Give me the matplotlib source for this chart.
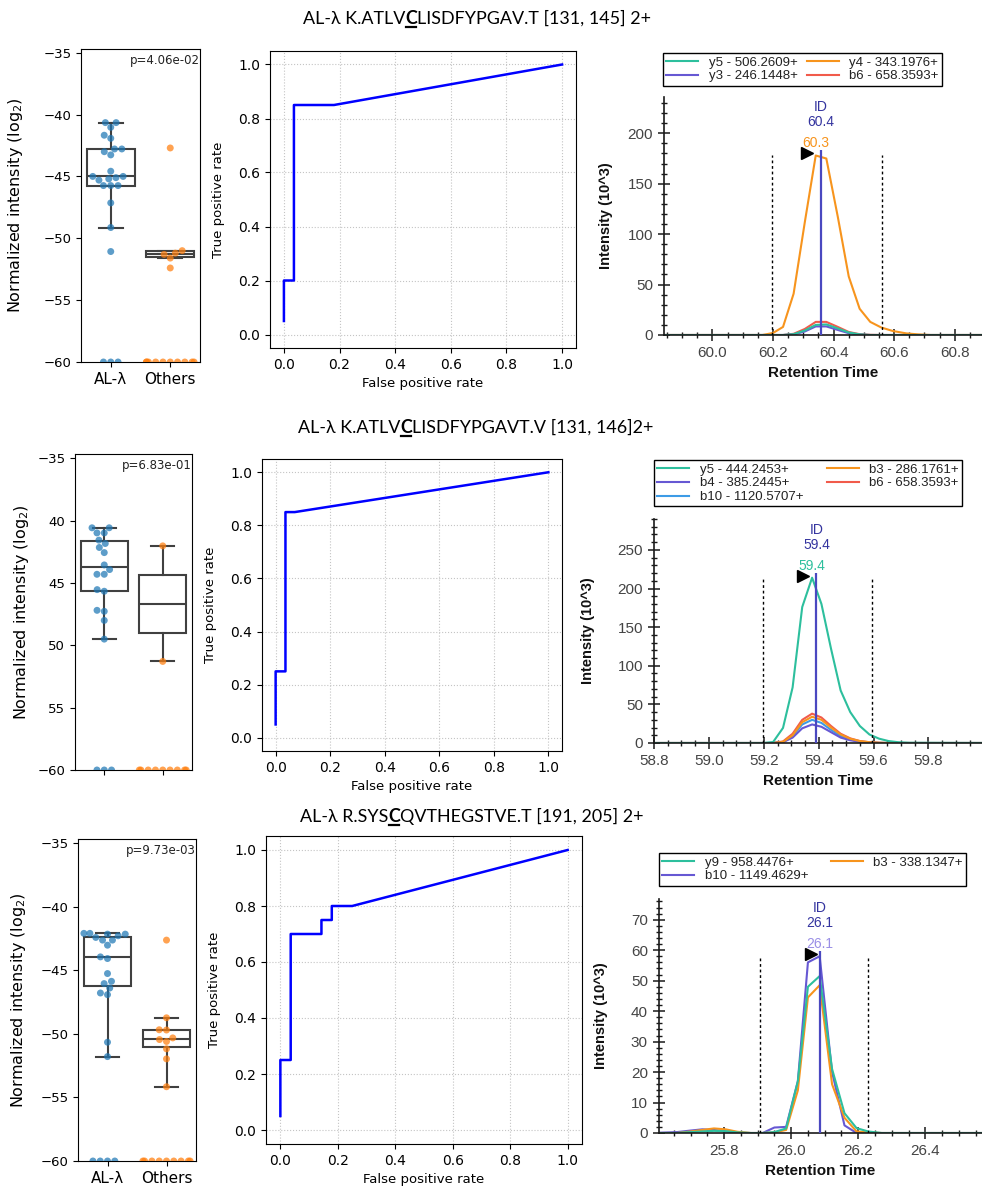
import numpy as np
import pandas as pd
import matplotlib
matplotlib.use("Agg")
import matplotlib.pyplot as plt
import seaborn as sns
from matplotlib.ticker import MultipleLocator, FixedLocator, FixedFormatter, FormatStrFormatter
from matplotlib.lines import Line2D
from matplotlib.transforms import offset_copy

W, H = 982, 1192
FLOOR = -60
GROUPS = ["AL-λ", "Others"]

# ---------------- peptide titles (plain, bold, plain) ----------------
title_1 = [("AL-λ K.ATLV", False), ("C", True), ("LISDFYPGAV.T [131, 145] 2+", False)]
title_2 = [("AL-λ K.ATLV", False), ("C", True), ("LISDFYPGAVT.V [131, 146]2+", False)]
title_3 = [("AL-λ R.SYS", False), ("C", True), ("QVTHEGSTVE.T [191, 205] 2+", False)]

# ---------------- normalized intensities (log2), FLOOR = not detected ----------------
al_1 = [-40.65, -40.65, -41.03, -41.67, -41.92, -42.78, -42.78, -43.0, -43.26, -44.58,
        -45.0, -45.0, -45.1, -45.2, -45.3, -45.74, -45.74, -45.74, -47.14, -49.13, -51.07,
        -60, -60, -60]
others_1 = [-42.7, -51.0, -51.2, -51.3, -51.6, -52.4,
            -60, -60, -60, -60, -60, -60, -60, -60, -60, -60]

al_2 = [-40.57, -40.57, -40.98, -40.98, -41.56, -41.83, -42.15, -42.56, -43.55, -43.92,
        -44.3, -44.3, -45.53, -45.66, -47.19, -47.27, -48.0, -49.5,
        -60, -60, -60]
others_2 = [-42.02, -51.29,
            -60, -60, -60, -60, -60, -60, -60, -60, -60]

al_3 = [-42.1, -42.1, -42.16, -42.16, -42.29, -42.42, -42.63, -42.63, -43.03, -43.95,
        -44.08, -45.26, -45.87, -46.05, -46.4, -46.79, -46.92, -50.66, -51.79,
        -60, -60, -60, -60]
others_3 = [-42.63, -48.74, -49.68, -49.7, -50.32, -50.45, -50.6, -51.18, -51.97, -54.16,
            -60, -60, -60, -60, -60, -60, -60, -60, -60]

pvalues = ["p=4.06e-02", "p=6.83e-01", "p=9.73e-03"]

# ---------------- ROC curves ----------------
fpr_1 = [0.0, 0.0, 0.036, 0.036, 0.18, 1.0]
tpr_1 = [0.05, 0.20, 0.20, 0.85, 0.85, 1.0]
fpr_2 = [0.0, 0.0, 0.036, 0.036, 0.07, 1.0]
tpr_2 = [0.05, 0.25, 0.25, 0.85, 0.85, 1.0]
fpr_3 = [0.0, 0.0, 0.036, 0.036, 0.143, 0.143, 0.179, 0.179, 0.25, 1.0]
tpr_3 = [0.05, 0.25, 0.25, 0.70, 0.70, 0.75, 0.75, 0.80, 0.80, 1.0]

# ---------------- extracted ion chromatograms (intensity in 10^3) ----------------
rt_1 = [59.84, 60.165, 60.20, 60.233, 60.268, 60.305, 60.341, 60.376, 60.414, 60.45,
        60.486, 60.521, 60.557, 60.595, 60.64, 60.68, 60.72, 60.9]
y5_1 = [0, 0, 0, 0, 0.8, 4.5, 10, 10.5, 6.5, 2.5, 0.6, 0, 0, 0, 0, 0, 0, 0]
y3_1 = [0, 0, 0, 0, 0.5, 3.5, 8.5, 8.5, 5, 1.8, 0.4, 0, 0, 0, 0, 0, 0, 0]
y4_1 = [0, 0, 2, 8, 41, 112, 178, 175, 117, 58, 26, 13, 7.5, 4, 1.6, 0.6, 0, 0]
b6_1 = [0, 0, 0, 0, 1.2, 6, 13, 13, 8, 3, 0.8, 0.2, 0, 0, 0, 0, 0, 0]

rt_2 = [58.8, 59.2, 59.234, 59.27, 59.305, 59.34, 59.376, 59.41, 59.445, 59.48, 59.515,
        59.55, 59.585, 59.62, 59.655, 59.69, 59.73, 60.0]
y5_2 = [0, 0, 1.3, 19.5, 72, 176, 214, 180, 122, 68, 40, 22, 11, 5.6, 2.5, 1, 0.3, 0]
b4_2 = [0, 0, 0, 1, 7, 19, 24, 21, 14, 7, 3.5, 1.5, 0.5, 0, 0, 0, 0, 0]
b10_2 = [0, 0, 0, 1.2, 9, 24, 30, 26, 17, 9, 4.5, 2, 0.8, 0.2, 0, 0, 0, 0]
b3_2 = [0, 0, 0, 1.5, 10, 27, 34, 30, 20, 11, 5.5, 2.5, 1, 0.3, 0, 0, 0, 0]
b6_2 = [0, 0, 0, 2, 12, 30, 38, 33, 22, 12, 6, 2.5, 1, 0.3, 0, 0, 0, 0]

rt_3 = [25.583, 25.66, 25.70, 25.735, 25.77, 25.805, 25.84, 25.88, 25.915, 25.95,
        25.985, 26.02, 26.05, 26.085, 26.122, 26.159, 26.195, 26.23, 26.27, 26.569]
y9_3 = [0, 0, 0.3, 0.5, 0.7, 0.6, 0.2, 0, 0, 0.3, 1.5, 17, 48, 51.5, 21, 6.5, 1.6, 0.5, 0, 0]
b10_3 = [0, 0.3, 0.8, 1.2, 1.0, 0.5, 0.1, 0, 0, 1.8, 2.0, 17, 56, 58, 20, 2.5, 0, 0, 0, 0]
b3_3 = [0, 0, 0.5, 1.0, 1.5, 1.2, 0.4, 0, 0, 0.2, 1.0, 14, 44.5, 48.5, 16, 5, 0.5, 0.2, 0, 0]

id_rt = [60.359, 59.392, 26.085]
bounds_1 = [60.198, 60.559]
bounds_2 = [59.197, 59.595]
bounds_3 = [25.907, 26.23]

TEAL = "#2dbf9d"
ORANGE = "#f7941d"
PURPLE = "#6658d3"
RED = "#f15b4b"
LBLUE = "#3d9be6"
NAVY = "#34349f"
ID_LINE = "#4a48c0"
BOX_EDGE = "#404040"
SKY_FONT = ["Liberation Sans", "DejaVu Sans"]

fig = plt.figure(figsize=(W / 100, H / 100), dpi=100)
fig.patch.set_facecolor("white")


def px_axes(l, t, r, b):
    return fig.add_axes([l / W, 1 - b / H, (r - l) / W, (b - t) / H])


# ---------------- titles with a bold, underlined residue ----------------
renderer = fig.canvas.get_renderer()
TITLE_FONT = ["Lato", "DejaVu Sans"]


def make_texts(pieces, size):
    return [fig.text(0, 0, s, fontsize=size, family=TITLE_FONT,
                     fontweight="bold" if b else "normal", va="baseline", color="black")
            for s, b in pieces]


probe = make_texts(title_1, 10)
probe_w = sum(t.get_window_extent(renderer).width for t in probe)
for t in probe:
    t.remove()
TITLE_SIZE = 10 * 345 / probe_w


def rich_title(pieces, left_px, base_px):
    texts = make_texts(pieces, TITLE_SIZE)
    x = left_px
    for t, (s, b) in zip(texts, pieces):
        t.set_position((x / W, 1 - base_px / H))
        w = t.get_window_extent(renderer).width
        if b:
            fig.add_artist(Line2D([(x + 1) / W, (x + w - 1) / W],
                                  [1 - (base_px + 3) / H] * 2,
                                  transform=fig.transFigure, color="black", lw=1.6))
        x += w


rich_title(title_1, 303, 23.5)
rich_title(title_2, 298, 433)
rich_title(title_3, 300, 822)


# ---------------- box + swarm panels ----------------
def draw_box(ax, al, others, pval, whis, top, show_groups=True, ytick_text=None, ylab_off=56):
    df = pd.DataFrame({"group": [GROUPS[0]] * len(al) + [GROUPS[1]] * len(others),
                       "value": al + others})
    detected = [[v for v in al if v > FLOOR], [v for v in others if v > FLOOR]]
    line = dict(color=BOX_EDGE, linewidth=1.5)
    ax.boxplot(detected, positions=[0, 1], widths=0.8, whis=whis, showfliers=False,
               patch_artist=True, manage_ticks=False,
               boxprops=dict(facecolor="none", edgecolor=BOX_EDGE, linewidth=1.5),
               medianprops=line, whiskerprops=line, capprops=line)
    sns.swarmplot(data=df, x="group", y="value", hue="group", order=GROUPS, hue_order=GROUPS,
                  palette=["#1f77b4", "#ff7f0e"], size=5, alpha=0.72, legend=False, ax=ax,
                  zorder=3)
    ax.set_xlim(-0.5, 1.5)
    ax.set_ylim(FLOOR, top)
    ax.yaxis.set_major_locator(MultipleLocator(5))
    if ytick_text is not None:
        ax.yaxis.set_major_locator(FixedLocator([-60, -55, -50, -45, -40, -35]))
        ax.yaxis.set_major_formatter(FixedFormatter(ytick_text))
    ax.set_xticks([0, 1])
    ax.set_xticklabels(GROUPS if show_groups else ["", ""], fontsize=11)
    ax.tick_params(axis="y", labelsize=9.5)
    ax.set_xlabel("")
    ax.set_ylabel("Normalized intensity (log$_2$)", fontsize=11.5)
    bb = ax.get_position()
    ax.yaxis.set_label_coords(-ylab_off / (bb.width * W), 0.5)
    ax.text(1.0, 0.985, pval, transform=ax.transAxes, ha="right", va="top", fontsize=8.5,
            color="#222222")


draw_box(px_axes(81, 49, 200, 362), al_1, others_1, pvalues[0], 1.5, -34.7)
draw_box(px_axes(75, 454, 192, 770), al_2, others_2, pvalues[1], 1.5, -34.65,
         show_groups=False, ytick_text=["\u221260", "55", "50", "45", "40", "\u221235"],
         ylab_off=44)
draw_box(px_axes(78, 839, 196, 1161), al_3, others_3, pvalues[2], 3.0, -34.68, ylab_off=50)


# ---------------- ROC panels ----------------
def draw_roc(ax, fpr, tpr):
    ax.plot(fpr, tpr, color="blue", lw=1.8)
    ax.set_xlim(-0.05, 1.05)
    ax.set_ylim(-0.05, 1.05)
    ax.xaxis.set_major_locator(MultipleLocator(0.2))
    ax.yaxis.set_major_locator(MultipleLocator(0.2))
    ax.grid(True, linestyle=":", color="#c4c4c4", linewidth=0.8)
    ax.set_xlabel("False positive rate", fontsize=9.5)
    ax.set_ylabel("True positive rate", fontsize=9.5)
    ax.tick_params(labelsize=10)
    bb = ax.get_position()
    ax.yaxis.set_label_coords(-45 / (bb.width * W), 0.5)


draw_roc(px_axes(270, 51, 576, 348), fpr_1, tpr_1)
draw_roc(px_axes(262, 459, 562, 751), fpr_2, tpr_2)
draw_roc(px_axes(266, 836, 582, 1144), fpr_3, tpr_3)


# ---------------- chromatogram panels ----------------
chrom_axes = []


def draw_chrom(ax, rt, series, legend_order, apex_key, peak_color, bounds, rt_id,
               xlim, ylim, ymaj, ymin, legend_px, ylab_off):
    handles = {}
    for key, (label, vals, color) in reversed(list(series.items())):
        handles[key], = ax.plot(rt, vals, color=color, lw=1.5, label=label,
                                solid_joinstyle="round")
    ax.set_xlim(*xlim)
    ax.set_ylim(*ylim)
    for s in ("top", "right"):
        ax.spines[s].set_visible(False)
    for s in ("left", "bottom"):
        ax.spines[s].set_color("#1a1a1a")
        ax.spines[s].set_linewidth(1.2)
    ax.xaxis.set_major_locator(MultipleLocator(0.2))
    ax.xaxis.set_minor_locator(MultipleLocator(0.05))
    ax.xaxis.set_major_formatter(FormatStrFormatter("%.1f"))
    ax.yaxis.set_major_locator(MultipleLocator(ymaj))
    ax.yaxis.set_minor_locator(MultipleLocator(ymin))
    ax.tick_params(which="major", direction="inout", length=9, width=1.1, color="#1a1a1a",
                   labelsize=11, labelcolor="#444444")
    ax.tick_params(which="minor", direction="inout", length=5, width=1.0, color="#1a1a1a")
    ax.set_xlabel("Retention Time", fontsize=11, fontweight="bold", family=SKY_FONT,
                  color="#111111")
    ax.set_ylabel("Intensity (10^3)", fontsize=10.5, fontweight="bold", family=SKY_FONT,
                  color="#111111")
    bb = ax.get_position()
    ax.yaxis.set_label_coords(-ylab_off / (bb.width * W), 0.5)

    vals = series[apex_key][1]
    k = int(np.argmax(vals))
    apex_rt, apex_val = rt[k], vals[k]
    px_to_data = (ylim[1] - ylim[0]) / (bb.height * H)
    ax.vlines(bounds, 0, apex_val, colors="black", linestyles=(0, (2, 2)), lw=1.0, zorder=4)
    ax.vlines(rt_id, 0, apex_val + 5 * px_to_data, colors=ID_LINE, lw=1.6, zorder=5)
    tri = offset_copy(ax.transData, fig=fig, x=-9, y=2, units="dots")
    ax.plot([apex_rt], [apex_val], marker=">", color="black", markersize=8,
            transform=tri, zorder=6, clip_on=False)
    ax.annotate(f"{apex_rt:.1f}", (apex_rt, apex_val), xytext=(0, 12),
                textcoords="offset pixels", ha="center", va="center", fontsize=10,
                family=SKY_FONT, color=peak_color, annotation_clip=False)
    ax.annotate(f"{rt_id:.1f}", (rt_id, apex_val), xytext=(0, 33),
                textcoords="offset pixels", ha="center", va="center", fontsize=10,
                family=SKY_FONT, color=NAVY, annotation_clip=False)
    ax.annotate("ID", (rt_id, apex_val), xytext=(0, 48),
                textcoords="offset pixels", ha="center", va="center", fontsize=10,
                family=SKY_FONT, color=NAVY, annotation_clip=False)

    l, t, r, b = legend_px
    leg = fig.legend([handles[k2] for k2 in legend_order],
                     [series[k2][0] for k2 in legend_order],
                     loc="upper left", bbox_to_anchor=(l / W, 1 - b / H, (r - l) / W, (b - t) / H),
                     bbox_transform=fig.transFigure, mode="expand", ncol=2,
                     prop={"family": SKY_FONT, "size": 9.5}, frameon=True, fancybox=False,
                     edgecolor="black", framealpha=1, borderpad=0.25, labelspacing=0.12,
                     handlelength=2.4, handletextpad=0.8, columnspacing=1.0,
                     borderaxespad=0)
    leg.get_frame().set_linewidth(1.0)
    for txt in leg.get_texts():
        txt.set_color("#222222")
    chrom_axes.append(ax)


draw_chrom(px_axes(664, 97, 982, 335), rt_1,
           {"y5": ("y5 - 506.2609+", y5_1, TEAL), "y4": ("y4 - 343.1976+", y4_1, ORANGE),
            "y3": ("y3 - 246.1448+", y3_1, PURPLE), "b6": ("b6 - 658.3593+", b6_1, RED)},
           ["y5", "y3", "y4", "b6"], "y4", ORANGE, bounds_1, id_rt[0],
           (59.84, 60.89), (0, 236), 50, 10, (663, 53, 942, 87), 51)

draw_chrom(px_axes(654, 519, 982, 743), rt_2,
           {"y5": ("y5 - 444.2453+", y5_2, TEAL), "b3": ("b3 - 286.1761+", b3_2, ORANGE),
            "b4": ("b4 - 385.2445+", b4_2, PURPLE), "b6": ("b6 - 658.3593+", b6_2, RED),
            "b10": ("b10 - 1120.5707+", b10_2, LBLUE)},
           ["y5", "b4", "b10", "b3", "b6"], "y5", TEAL, bounds_2, id_rt[1],
           (58.8, 59.995), (0, 290), 50, 10, (654, 460, 962, 511), 59)

draw_chrom(px_axes(659, 899, 982, 1133), rt_3,
           {"y9": ("y9 - 958.4476+", y9_3, TEAL), "b3": ("b3 - 338.1347+", b3_3, ORANGE),
            "b10": ("b10 - 1149.4629+", b10_3, PURPLE)},
           ["y9", "b10", "b3"], "b10", "#9a8fe6", bounds_3, id_rt[2],
           (25.606, 26.569), (0, 76.8), 10, 2, (659, 853, 966, 889), 51)

# Skyline-style sans font on chromatogram tick labels
fig.canvas.draw()
for ax in chrom_axes:
    for lbl in ax.get_xticklabels() + ax.get_yticklabels():
        lbl.set_fontfamily(SKY_FONT)

fig.savefig("out.png", dpi=100, facecolor="white")
